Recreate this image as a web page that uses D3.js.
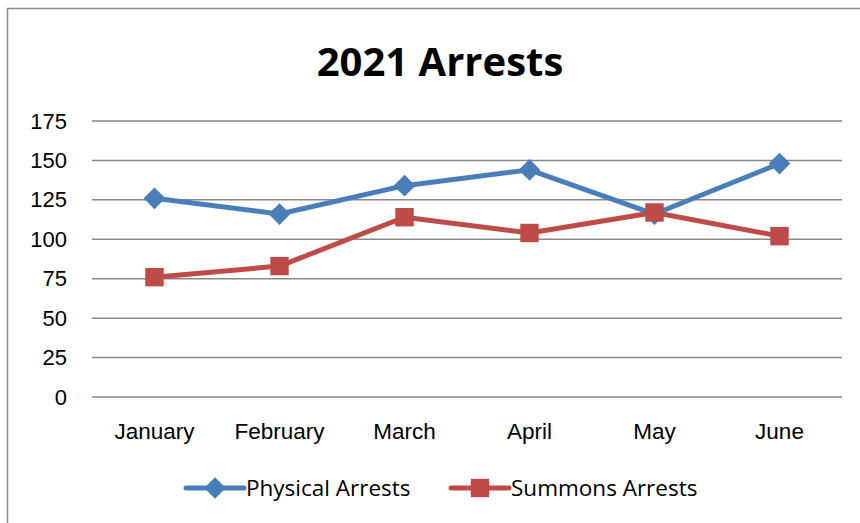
<!DOCTYPE html>
<html>
<head>
<meta charset="utf-8">
<script src="https://cdn.jsdelivr.net/npm/d3@7"></script>
<style>
  body { margin: 0; background: #fff; }
  svg { display: block; font-family: "Open Sans", sans-serif; }
</style>
</head>
<body>
<div class="content"></div>
<script>
// Data
const months = ["January", "February", "March", "April", "May", "June"];
const physical = [126, 116, 134, 144, 116, 148];
const summons = [76, 83, 114, 104, 117, 102];
const yTicks = [0, 25, 50, 75, 100, 125, 150, 175];

// Dimensions
const width = 860;
const height = 523;
const margin = { top: 121, right: 18, bottom: 126, left: 92 };

const svg = d3
  .select(".content")
  .append("svg")
  .attr("width", width)
  .attr("height", height);

// Outer chart border
svg
  .append("rect")
  .attr("x", 7.5)
  .attr("y", 8.5)
  .attr("width", 870)
  .attr("height", 540)
  .attr("fill", "#fff")
  .attr("stroke", "#8c8c8c")
  .attr("stroke-width", 1.5);

// Title
svg
  .append("text")
  .attr("x", 440)
  .attr("y", 76)
  .attr("text-anchor", "middle")
  .style("font-size", "40px")
  .style("font-weight", "bold")
  .text("2021 Arrests");

// Scales
const xScale = d3
  .scaleBand()
  .domain(months)
  .range([margin.left, width - margin.right]);

const yScale = d3
  .scaleLinear()
  .domain([0, 175])
  .range([height - margin.bottom, margin.top]);

// Gridlines
svg
  .append("g")
  .selectAll("line")
  .data(yTicks)
  .join("line")
  .attr("x1", margin.left)
  .attr("x2", width - margin.right)
  .attr("y1", (d) => yScale(d))
  .attr("y2", (d) => yScale(d))
  .attr("stroke", "#888")
  .attr("stroke-width", 1.5);

// Y axis
const yAxis = d3.axisLeft(yScale).tickValues(yTicks).tickSize(0).tickPadding(25);
svg
  .append("g")
  .attr("transform", `translate(${margin.left}, 0)`)
  .call(yAxis)
  .call((g) => g.select(".domain").remove())
  .selectAll("text")
  .style("font-size", "22px")
  .style("font-family", "inherit")
  .attr("fill", "#000");

// X axis
const xAxis = d3.axisBottom(xScale).tickSize(0).tickPadding(26);
svg
  .append("g")
  .attr("transform", `translate(0, ${yScale(0)})`)
  .call(xAxis)
  .call((g) => g.select(".domain").remove())
  .selectAll("text")
  .style("font-size", "22.5px")
  .style("font-family", "inherit")
  .attr("fill", "#000");

// Series
const series = [
  { name: "Physical Arrests", values: physical, color: "#4a7ebb", marker: d3.symbolDiamond2, size: 300 },
  { name: "Summons Arrests", values: summons, color: "#be4b48", marker: d3.symbolSquare, size: 340 },
];

const line = d3
  .line()
  .x((d, i) => xScale(months[i]) + xScale.bandwidth() / 2)
  .y((d) => yScale(d));

series.forEach((s) => {
  svg
    .append("path")
    .datum(s.values)
    .attr("d", line)
    .attr("fill", "none")
    .attr("stroke", s.color)
    .attr("stroke-width", 5)
    .attr("stroke-linejoin", "round");
});

series.forEach((s) => {
  svg
    .append("g")
    .selectAll("path")
    .data(s.values)
    .join("path")
    .attr("d", d3.symbol().type(s.marker).size(s.size))
    .attr("transform", (d, i) => `translate(${xScale(months[i]) + xScale.bandwidth() / 2}, ${yScale(d)})`)
    .attr("fill", s.color);
});

// Legend
const legendX = [186, 451];
const legend = svg.append("g").attr("transform", "translate(0, 488)");
series.forEach((s, i) => {
  const g = legend.append("g").attr("transform", `translate(${legendX[i]}, 0)`);
  g.append("line")
    .attr("x1", 0)
    .attr("x2", 58)
    .attr("stroke", s.color)
    .attr("stroke-width", 5)
    .attr("stroke-linecap", "round");
  g.append("path")
    .attr("d", d3.symbol().type(s.marker).size(s.size))
    .attr("transform", "translate(29, 0)")
    .attr("fill", s.color);
  g.append("text")
    .attr("x", 60)
    .attr("dy", "0.35em")
    .style("font-size", "22.5px")
    .text(s.name);
});
</script>
</body>
</html>
